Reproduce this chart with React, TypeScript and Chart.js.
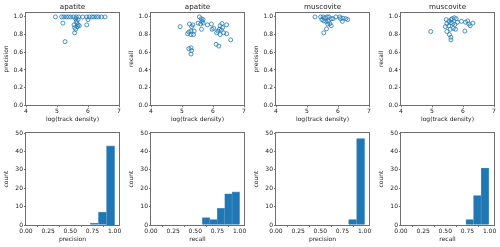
import React, { useEffect, useRef } from "react";
import { Chart, registerables } from "chart.js";
Chart.register(...registerables);

const panelTitles = ["apatite", "apatite", "muscovite", "muscovite"];
const metricLabels = ["precision", "recall", "precision", "recall"];
const densityLabel = "log(track density)";
const countLabel = "count";

// apatite precision vs log(track density)
const apatitePrecDensity = [4.95, 5.15, 5.22, 5.30, 5.37, 5.44, 5.53, 5.62, 5.70, 5.83, 5.96, 6.04, 6.13, 6.19, 6.27, 6.34, 6.43, 6.55, 5.19, 5.26, 5.57, 5.57, 5.62, 5.68, 5.72, 5.60, 5.68, 5.96, 6.00, 5.55, 5.64, 5.60, 5.66];
const apatitePrecValue = [1.0, 1.0, 1.0, 1.0, 1.0, 1.0, 1.0, 1.0, 1.0, 1.0, 1.0, 1.0, 1.0, 1.0, 1.0, 1.0, 1.0, 1.0, 0.93, 0.72, 0.88, 0.82, 0.95, 0.91, 0.90, 0.98, 0.97, 0.91, 0.97, 0.91, 0.93, 0.86, 0.89];

// apatite recall vs log(track density)
const apatiteRecDensity = [4.94, 5.18, 5.22, 5.24, 5.31, 5.35, 5.29, 5.29, 5.37, 5.39, 5.22, 5.29, 5.29, 5.31, 5.56, 5.62, 5.68, 5.65, 5.52, 5.68, 5.60, 5.63, 5.82, 5.95, 5.97, 6.02, 6.12, 6.10, 6.19, 6.23, 6.21, 6.27, 6.29, 6.31, 6.34, 6.23, 6.16, 6.44, 6.44, 6.57];
const apatiteRecValue = [0.89, 0.81, 0.83, 0.92, 0.89, 0.91, 0.84, 0.80, 0.80, 0.84, 0.64, 0.65, 0.58, 0.62, 1.00, 0.98, 0.97, 0.95, 0.93, 0.93, 0.92, 0.86, 0.91, 0.92, 0.86, 0.87, 0.82, 0.69, 0.67, 0.90, 0.86, 0.85, 0.925, 0.88, 0.82, 0.80, 0.84, 0.91, 0.81, 0.74];

// muscovite precision vs log(track density)
const muscovitePrecDensity = [5.26, 5.44, 5.52, 5.59, 5.65, 5.71, 5.78, 5.84, 5.93, 6.06, 6.08, 6.14, 6.16, 6.25, 6.31, 5.54, 5.61, 5.69, 5.74, 5.67, 5.78, 5.63, 5.54, 5.48];
const muscovitePrecValue = [1.0, 1.0, 1.0, 0.99, 1.0, 1.0, 0.98, 0.98, 1.0, 1.0, 0.98, 0.95, 0.985, 0.98, 0.97, 0.955, 0.95, 0.95, 0.925, 0.92, 0.90, 0.865, 0.82, 0.97];

// muscovite recall vs log(track density)
const muscoviteRecDensity = [4.96, 5.46, 5.48, 5.43, 5.48, 5.54, 5.59, 5.56, 5.61, 5.61, 5.65, 5.72, 5.78, 5.67, 5.74, 5.69, 5.76, 5.82, 5.54, 5.61, 5.95, 6.06, 6.08, 6.15, 6.19, 6.23, 6.32, 5.61];
const muscoviteRecValue = [0.835, 0.97, 0.925, 0.89, 0.835, 0.90, 0.86, 0.80, 0.77, 0.74, 0.98, 0.99, 0.98, 0.925, 0.915, 0.87, 0.86, 0.94, 0.95, 0.935, 0.95, 0.84, 0.94, 0.955, 0.92, 0.90, 0.93, 0.97];

// histograms: bin edges and counts
const apatitePrecEdges = [0.727, 0.818, 0.909, 1.0];
const apatitePrecCounts = [1, 7, 43];
const apatiteRecEdges = [0.58, 0.664, 0.748, 0.832, 0.916, 1.0];
const apatiteRecCounts = [4, 3, 9, 17, 18];
const muscovitePrecEdges = [0.82, 0.91, 1.0];
const muscovitePrecCounts = [3, 47];
const muscoviteRecEdges = [0.733, 0.819, 0.905, 0.991];
const muscoviteRecCounts = [3, 16, 31];

const scatterSets = [
  [apatitePrecDensity, apatitePrecValue],
  [apatiteRecDensity, apatiteRecValue],
  [muscovitePrecDensity, muscovitePrecValue],
  [muscoviteRecDensity, muscoviteRecValue],
];
const histSets = [
  [apatitePrecEdges, apatitePrecCounts],
  [apatiteRecEdges, apatiteRecCounts],
  [muscovitePrecEdges, muscovitePrecCounts],
  [muscoviteRecEdges, muscoviteRecCounts],
];

const FONT = "'DejaVu Sans', sans-serif";
const BLUE = "#1f77b4";
const TXT = "#1a1a1a";

const framePlugin = {
  id: "frame",
  afterDraw(chart: any, _args: any, opts: any) {
    const { ctx, chartArea: a } = chart;
    ctx.save();
    ctx.strokeStyle = "#6e6e6e";
    ctx.lineWidth = 1;
    const l = Math.round(a.left) - 0.5;
    const t = Math.round(a.top) - 0.5;
    const r = Math.round(a.right) + 0.5;
    const b = Math.round(a.bottom) + 0.5;
    ctx.strokeRect(l, t, r - l, b - t);
    if (opts && opts.title) {
      ctx.fillStyle = TXT;
      ctx.font = `7.2px ${FONT}`;
      ctx.textAlign = "center";
      ctx.textBaseline = "middle";
      ctx.fillText(opts.title, (a.left + a.right) / 2, opts.titleY);
    }
    ctx.restore();
  },
};

function axis(min: number, max: number, step: number, dec: number, title: string, isX: boolean, fitSize: number) {
  return {
    type: "linear",
    min,
    max,
    ticks: {
      stepSize: step,
      includeBounds: false,
      autoSkip: false,
      maxRotation: 0,
      padding: isX ? 1 : 1,
      color: TXT,
      font: { family: FONT, size: 6 },
      callback: (v: any) => Number(v).toFixed(dec),
    },
    grid: { drawOnChartArea: false, drawTicks: true, tickLength: 2, color: "#555", lineWidth: 0.8 },
    border: { display: false },
    title: {
      display: true,
      text: title,
      color: TXT,
      font: { family: FONT, size: 6 },
      padding: isX ? { top: 0, bottom: 0 } : { top: 2.4, bottom: 0 },
    },
    afterFit: (s: any) => {
      if (isX) s.height = fitSize;
      else s.width = fitSize;
    },
  };
}

function Panel({ kind, idx }: { kind: "scatter" | "hist"; idx: number }) {
  const ref = useRef<HTMLCanvasElement>(null);
  const top = kind === "scatter" ? 0 : 123;
  const height = kind === "scatter" ? 123 : 120;
  useEffect(() => {
    if (!ref.current) return;
    let config: any;
    if (kind === "scatter") {
      const [xs, ys] = scatterSets[idx];
      config = {
        type: "scatter",
        data: {
          datasets: [
            {
              data: xs.map((x, i) => ({ x, y: ys[i] })),
              pointRadius: 2,
              pointBorderWidth: 0.8,
              pointBorderColor: BLUE,
              pointBackgroundColor: "rgba(0,0,0,0)",
            },
          ],
        },
        options: {
          responsive: false,
          animation: false,
          layout: { padding: { top: 12.5, left: 0, right: 6, bottom: 0 } },
          plugins: { legend: { display: false }, tooltip: { enabled: false }, frame: { title: panelTitles[idx], titleY: 6.7 } },
          scales: {
            x: axis(4, 7, 1, 0, densityLabel, true, 17.7),
            y: axis(0, 1.05, 0.2, 1, metricLabels[idx], false, 26),
          },
        },
        plugins: [framePlugin],
      };
    } else {
      const [edges, counts] = histSets[idx];
      const data = counts.map((c, i) => ({ x: (edges[i] + edges[i + 1]) / 2, y: c }));
      config = {
        type: "bar",
        data: {
          datasets: [
            {
              data,
              backgroundColor: BLUE,
              borderColor: "#5a9bcc",
              borderWidth: 0.6,
              barPercentage: 1,
              categoryPercentage: 1,
            },
          ],
        },
        options: {
          responsive: false,
          animation: false,
          layout: { padding: { top: 10, left: 0, right: 6, bottom: 0 } },
          plugins: { legend: { display: false }, tooltip: { enabled: false }, frame: {} },
          scales: {
            x: { ...axis(0, 1.05, 0.25, 2, metricLabels[idx], true, 18), offset: false },
            y: axis(0, 50, 10, 0, countLabel, false, 26),
          },
        },
        plugins: [framePlugin],
      };
    }
    const chart = new Chart(ref.current, config);
    return () => chart.destroy();
  }, [kind, idx]);
  return (
    <canvas
      ref={ref}
      width={125}
      height={height}
      style={{ position: "absolute", left: idx * 125, top, width: 125, height }}
    />
  );
}

export default function App() {
  return (
    <div style={{ position: "fixed", left: 0, top: 0, width: 500, height: 247, background: "#fff", overflow: "hidden" }}>
      {[0, 1, 2, 3].map((i) => (
        <Panel key={"s" + i} kind="scatter" idx={i} />
      ))}
      {[0, 1, 2, 3].map((i) => (
        <Panel key={"h" + i} kind="hist" idx={i} />
      ))}
    </div>
  );
}
